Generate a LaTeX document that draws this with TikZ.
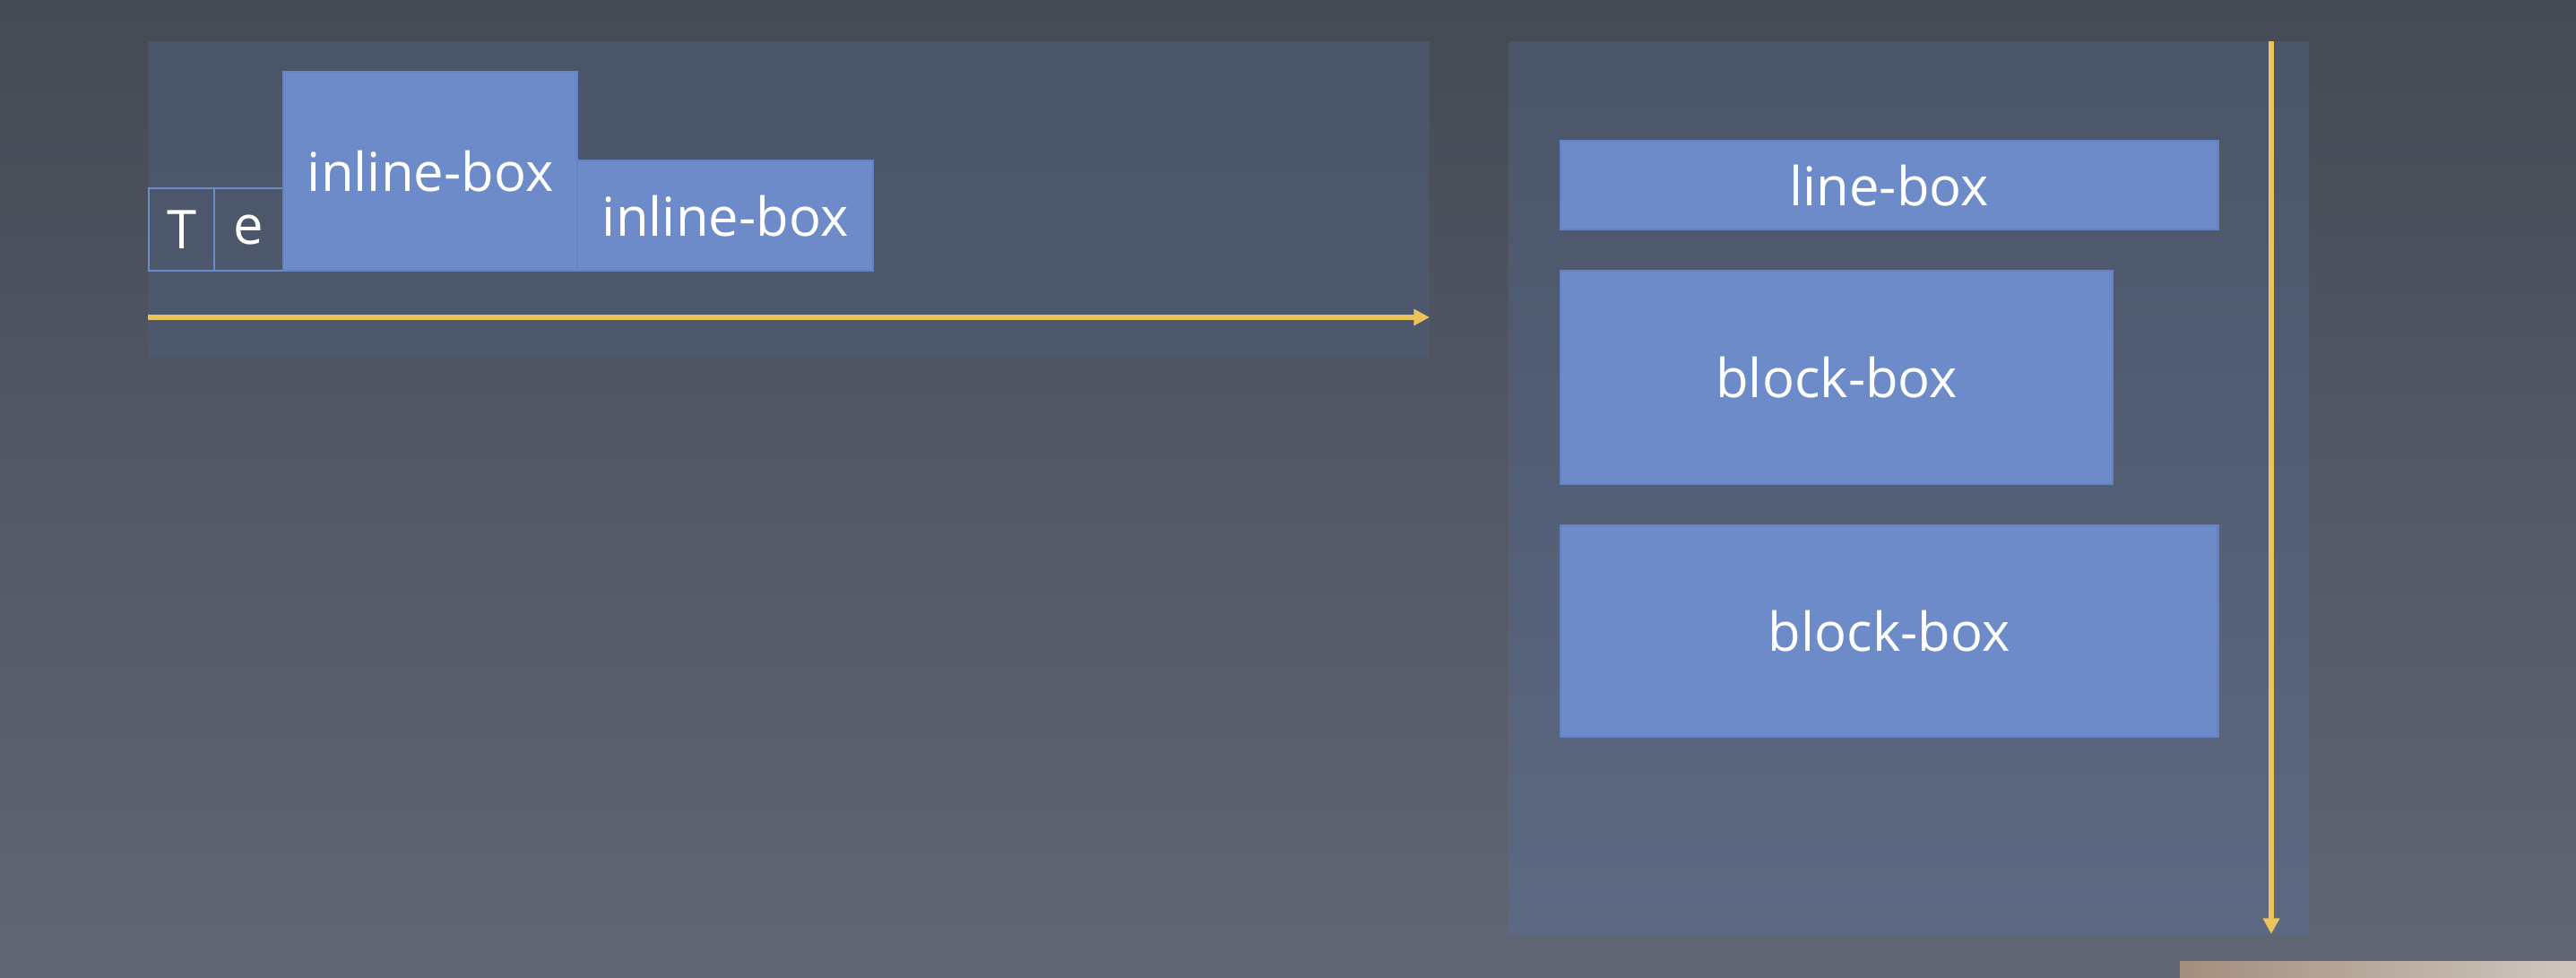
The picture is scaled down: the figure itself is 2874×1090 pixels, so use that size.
\documentclass[tikz,border=0pt]{standalone}
\usepackage{fontspec}
\setmainfont{Open Sans}
\usetikzlibrary{arrows.meta}
\definecolor{bgtop}{HTML}{454B55}
\definecolor{bgbot}{HTML}{606674}
\definecolor{pantop}{HTML}{4A5569}
\definecolor{panbot}{HTML}{5D6982}
\definecolor{boxfill}{HTML}{6D8BC8}
\definecolor{boxline}{HTML}{6383C2}
\definecolor{flow}{HTML}{E8C45A}
\definecolor{tanA}{HTML}{A38E7E}
\definecolor{tanB}{HTML}{CFC7BF}
\tikzset{
  lbl/.style={font=\fontsize{17pt}{20pt}\selectfont, text=white},
  bluebox/.style={lbl, fill=boxfill, draw=boxline, line width=0.6pt, anchor=north west, inner sep=0pt},
  glyphbox/.style={lbl, draw=boxfill, line width=0.6pt, anchor=north west, inner sep=0pt},
  flowarrow/.style={draw=flow, line width=1.5pt, -{Triangle[length=5pt,width=5pt]}},
}
\begin{document}
\begin{tikzpicture}[x=0.01cm, y=-0.01cm]
\useasboundingbox (0,0) rectangle (2874,1090);
% background
\shade[top color=bgtop, bottom color=bgbot] (0,0) rectangle (2874,1090);
% panels
\shade[top color=pantop, bottom color=pantop!82!panbot] (165,46) rectangle (1595,398);
\shade[top color=pantop, bottom color=panbot] (1683,46) rectangle (2576,1042);
% inline flow
\node[glyphbox, minimum width=0.73cm, minimum height=0.92cm] (t) at (165,209) {T};
\node[glyphbox, minimum width=0.77cm, minimum height=0.92cm] (e) at (238,209) {e};
\node[bluebox, minimum width=3.28cm, minimum height=2.22cm] (i1) at (315,79) {inline-box};
\node[bluebox, minimum width=3.30cm, minimum height=1.23cm] (i2) at (643,178) {inline-box};
\coordinate (hs) at (165,354);
\coordinate (he) at (1595,354);
\draw[flowarrow] (hs) -- (he);
% block flow
\node[bluebox, minimum width=7.33cm, minimum height=0.99cm] (lb) at (1740,156) {line-box};
\node[bluebox, minimum width=6.16cm, minimum height=2.38cm] (b1) at (1740,301) {block-box};
\node[bluebox, minimum width=7.33cm, minimum height=2.36cm] (b2) at (1740,585) {block-box};
\coordinate (vs) at (2534,46);
\coordinate (ve) at (2534,1042);
\draw[flowarrow] (vs) -- (ve);
% corner photo fragment
\shade[left color=tanA, right color=tanB] (2432,1072) rectangle (2874,1090);
\end{tikzpicture}
\end{document}
